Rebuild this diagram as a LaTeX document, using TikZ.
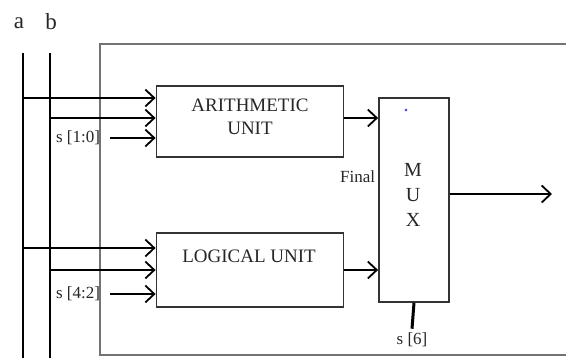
\documentclass[tikz,border=0pt]{standalone}
\usepackage{fontspec}
\setmainfont{Liberation Serif}
\usetikzlibrary{arrows.meta}

\begin{document}
\begin{tikzpicture}[x=1pt, y=-1pt, line width=1.8pt,
                    >={Straight Barb[length=9pt, width=17pt]},
                    unit box/.style={draw=black!80, minimum width=187pt, inner sep=0pt},
                    bus/.style={line width=2.4pt},
                    frame/.style={draw=black!55, line width=1.4pt},
                    every node/.style={font=\fontsize{17}{22}\selectfont, text=black!85}]

  \useasboundingbox (0,0) rectangle (566,358);

  % outer frame
  \draw[frame] (100,44) rectangle (600,355);

  % input buses
  \node (alabel) at (19,23) {\fontsize{23}{24}\selectfont a};
  \node (blabel) at (51,22) {\fontsize{23}{24}\selectfont b};
  \coordinate (atop) at (23,53);
  \coordinate (abot) at (23,362);
  \coordinate (btop) at (50,53);
  \coordinate (bbot) at (50,362);
  \draw[bus] (atop) -- (abot);
  \draw[bus] (btop) -- (bbot);

  % units
  \node[unit box, minimum height=71pt] (arith) at (250,121.5) {};
  \node[align=center, font=\fontsize{19}{23}\selectfont] (arithtext) at (250,117) {ARITHMETIC\\UNIT};
  \node[unit box, minimum height=74pt] (logic) at (250,270) {};
  \node[font=\fontsize{19}{23}\selectfont] (logictext) at (249,256) {LOGICAL UNIT};

  % multiplexer
  \node[draw=black!80, minimum width=70pt, minimum height=204pt, inner sep=0pt] (mux) at (414,200) {};
  \node[text=blue!70, inner sep=0pt, font=\fontsize{22}{22}\selectfont] (muxdot) at (406,111) {.};
  \node[align=center, font=\fontsize{20}{25}\selectfont] (muxtext) at (413,195) {M\\U\\X};
  \node[anchor=east, inner sep=1pt] (final) at (377,177) {Final};

  % select lines
  \node (s10) at (78,138) {s [1:0]};
  \node (s42) at (78,294) {s [4:2]};
  \node (s6) at (412,340) {s [6]};

  % taps from the buses
  \coordinate (a1) at (23,98);
  \coordinate (b1) at (50,118);
  \coordinate (a2) at (23,248);
  \coordinate (b2) at (50,270);
  \coordinate (out) at (552,194);

  \draw[->] (a1) -- (a1 -| arith.west);
  \draw[->] (b1) -- (b1 -| arith.west);
  \draw[->] ([xshift=6pt]s10.east) -- (s10 -| arith.west);
  \draw[->] (a2) -- (a2 -| logic.west);
  \draw[->] (b2) -- (b2 -| logic.west);
  \draw[->] ([xshift=6pt]s42.east) -- (s42 -| logic.west);

  \draw[->] (arith.east |- 0,118) -- (mux.west |- 0,118);
  \draw[->] (logic.east) -- (logic.east -| mux.west);
  \draw[->] (out -| mux.east) -- (out);
  \draw[line width=3pt] (mux.south) -- (s6.north);
\end{tikzpicture}
\end{document}
